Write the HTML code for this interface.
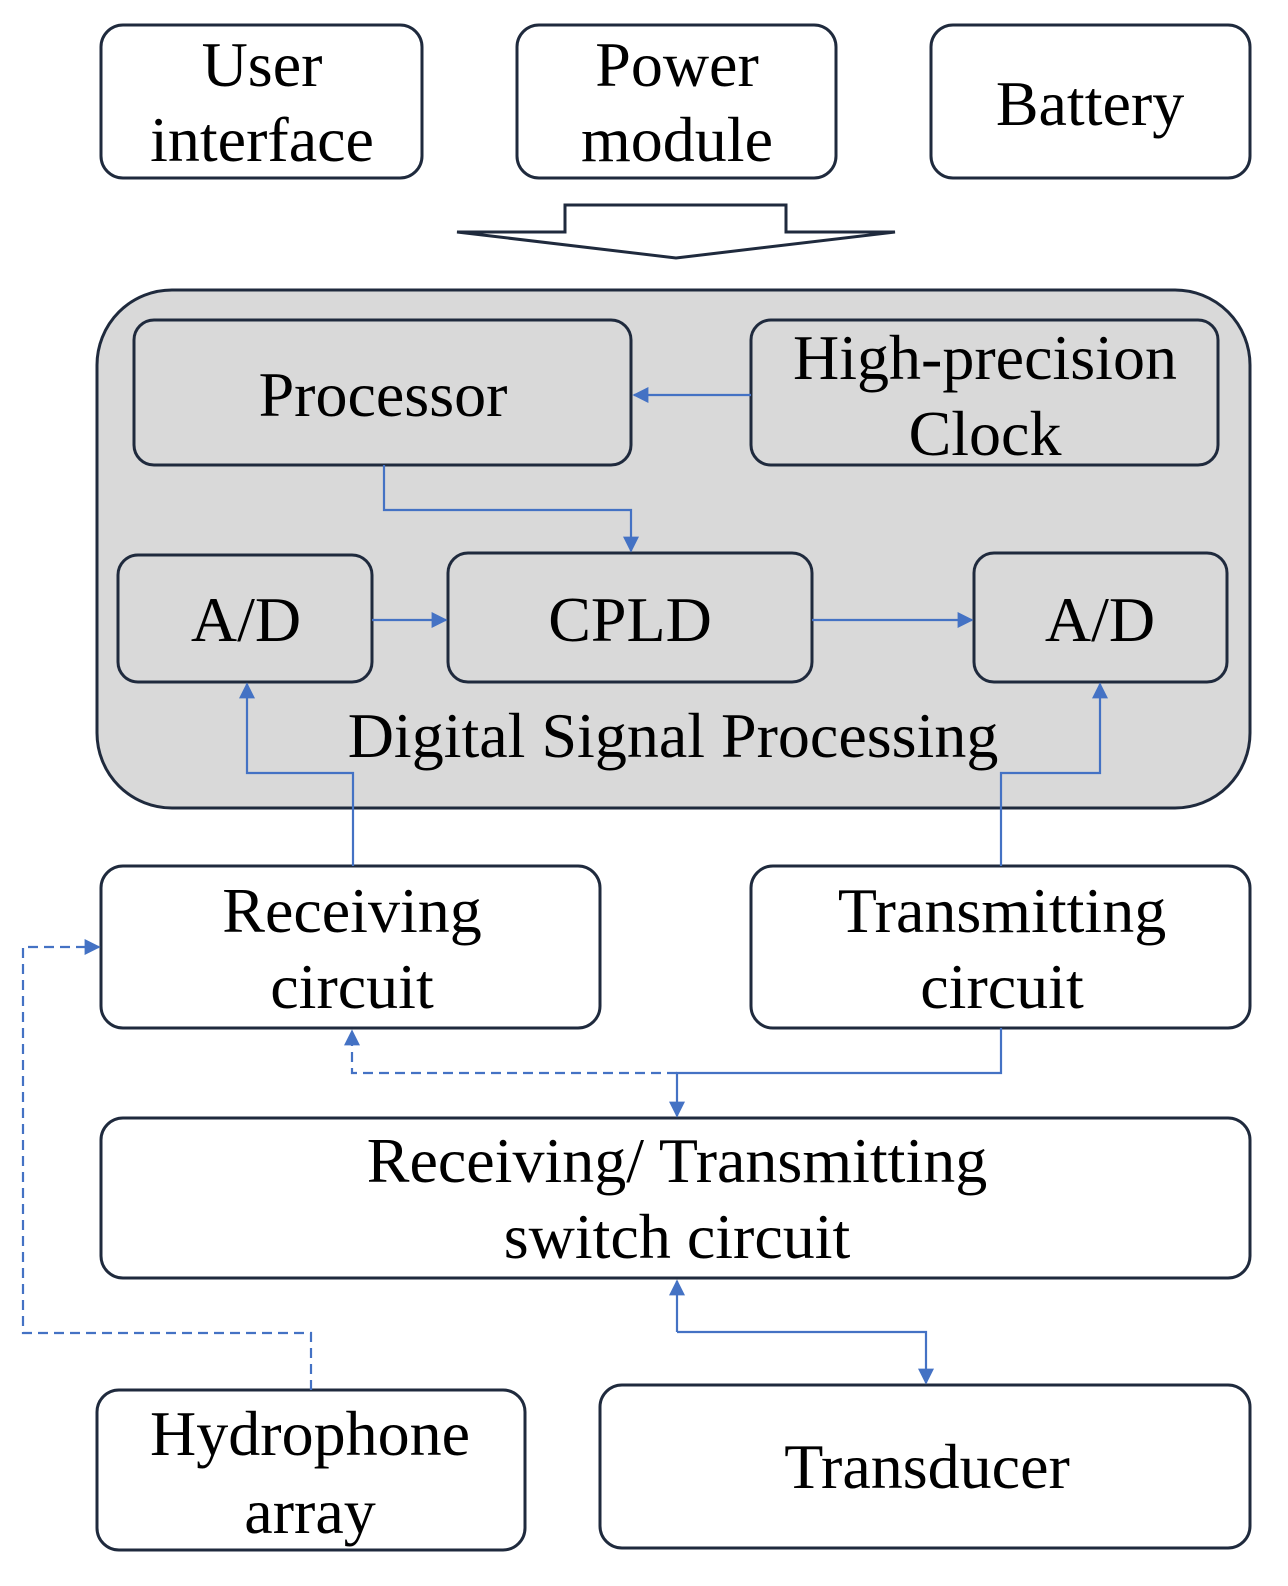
<!DOCTYPE html>
<html><head><meta charset="utf-8"><style>html,body{margin:0;padding:0;background:#fff}svg{display:block}</style></head>
<body>
<svg width="1288" height="1586" viewBox="0 0 1288 1586" xmlns="http://www.w3.org/2000/svg">
<defs>
<marker id="a" viewBox="0 0 10 10" refX="9" refY="5" markerWidth="18" markerHeight="16" markerUnits="userSpaceOnUse" orient="auto"><path d="M0,0 L10,5 L0,10 z" fill="#4472c4"/></marker>
</defs>
<g fill="none" stroke="#1f2a3d" stroke-width="3">
<rect x="101" y="25" width="321" height="153" rx="22"/>
<rect x="517" y="25" width="319" height="153" rx="22"/>
<rect x="931" y="25" width="319" height="153" rx="22"/>
<polygon points="565,205 786,205 786,232 895,232 676,258 457,232 565,232" fill="#fff"/>
<rect x="97" y="290" width="1153" height="518" rx="75" fill="#d9d9d9"/>
<rect x="134" y="320" width="497" height="145" rx="20"/>
<rect x="751" y="320" width="467" height="145" rx="20"/>
<rect x="118" y="555" width="254" height="127" rx="20"/>
<rect x="448" y="553" width="364" height="129" rx="20"/>
<rect x="974" y="553" width="253" height="129" rx="20"/>
<rect x="101" y="866" width="499" height="162" rx="22" fill="#fff"/>
<rect x="751" y="866" width="499" height="162" rx="22" fill="#fff"/>
<rect x="101" y="1118" width="1149" height="160" rx="22"/>
<rect x="97" y="1390" width="428" height="160" rx="22"/>
<rect x="600" y="1385" width="650" height="163" rx="22"/>
</g>
<g fill="none" stroke="#4472c4" stroke-width="2.2">
<path d="M751,395 H634" marker-end="url(#a)"/>
<path d="M384,465 V510 H631 V551" marker-end="url(#a)"/>
<path d="M372,620 H446" marker-end="url(#a)"/>
<path d="M812,620 H972" marker-end="url(#a)"/>
<path d="M353,866 V773 H247 V684" marker-end="url(#a)"/>
<path d="M1001,866 V773 H1100 V684" marker-end="url(#a)"/>
<path d="M1001,1028 V1073 H677 V1116" marker-end="url(#a)"/>
<path d="M677,1073 H352 V1031" stroke-dasharray="10,6" marker-end="url(#a)"/>
<path d="M677,1332 V1281" marker-end="url(#a)"/>
<path d="M677,1332 H926 V1383" marker-end="url(#a)"/>
<path d="M311,1390 V1333 H23 V947 H99" stroke-dasharray="10,6" marker-end="url(#a)"/>
</g>
<g font-family="Liberation Serif, serif" font-size="64" fill="#000" text-anchor="middle">
<text x="262" y="86">User</text><text x="262" y="161">interface</text>
<text x="677" y="86">Power</text><text x="677" y="161">module</text>
<text x="1090" y="125">Battery</text>
<text x="383" y="416">Processor</text>
<text x="985" y="379">High-precision</text><text x="985" y="455">Clock</text>
<text x="246" y="641">A/D</text>
<text x="630" y="641">CPLD</text>
<text x="1100" y="641">A/D</text>
<text x="673" y="757">Digital Signal Processing</text>
<text x="352" y="932">Receiving</text><text x="352" y="1008">circuit</text>
<text x="1002" y="932">Transmitting</text><text x="1002" y="1008">circuit</text>
<text x="677" y="1182">Receiving/ Transmitting</text><text x="677" y="1258">switch circuit</text>
<text x="310" y="1455">Hydrophone</text><text x="310" y="1533">array</text>
<text x="927" y="1488">Transducer</text>
</g>
</svg>
</body></html>
